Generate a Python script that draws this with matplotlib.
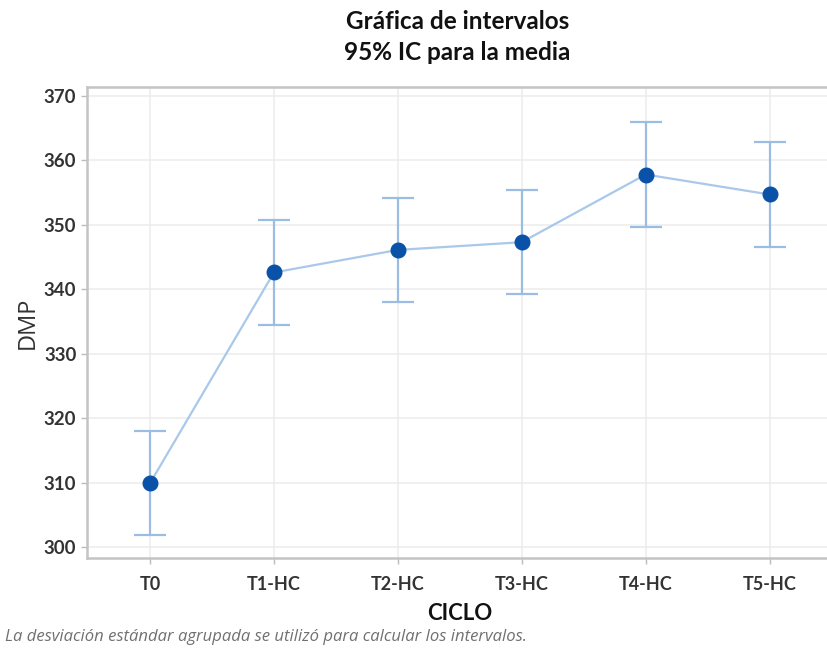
import matplotlib.pyplot as plt

# Interval plot: group means of DMP per cycle with 95% CI (pooled SD)
ciclos = ["T0", "T1-HC", "T2-HC", "T3-HC", "T4-HC", "T5-HC"]
medias = [309.9, 342.6, 346.1, 347.3, 357.8, 354.7]
semiancho_ic = [8.1, 8.1, 8.1, 8.1, 8.1, 8.1]
yticks = [300, 310, 320, 330, 340, 350, 360, 370]

BOLD = "Lato"

fig = plt.figure(figsize=(8.27, 6.58), dpi=100)
ax = fig.add_axes([0.105, 0.152, 0.902, 0.716])

x = list(range(len(ciclos)))
ax.errorbar(x, medias, yerr=semiancho_ic, fmt="none", ecolor="#9bbde2",
            elinewidth=1.6, capsize=11.5, capthick=1.6, zorder=2)
ax.plot(x, medias, color="#a9c8ea", linewidth=1.6, zorder=3)
ax.plot(x, medias, "o", color="#0a52a8", markersize=10.5, zorder=4)

ax.set_xlim(-0.51, 5.51)
ax.set_ylim(298.3, 371.4)
ax.set_xticks(x)
ax.set_xticklabels(ciclos, fontfamily=BOLD, fontweight="bold", fontsize=13,
                   color="#333333")
ax.set_yticks(yticks)
ax.set_yticklabels([str(v) for v in yticks], fontfamily=BOLD, fontweight="bold",
                   fontsize=13.5, color="#333333")
ax.tick_params(axis="both", length=4, color="#bbbbbb", width=1)
ax.tick_params(axis="x", pad=9)

ax.grid(True, color="#ececec", linewidth=1.1, zorder=0)
ax.set_axisbelow(True)
for sp in ax.spines.values():
    sp.set_color("#c4c4c4")
    sp.set_linewidth(1.8)

ax.set_ylabel("DMP", fontfamily="Open Sans", fontsize=17, color="#333333", labelpad=3)
ax.set_xlabel("CICLO", fontfamily=BOLD, fontweight="bold", fontsize=16,
              color="#111111", labelpad=7)

fig.text(0.553, 0.985, "Gráfica de intervalos", ha="center", va="top",
         fontfamily=BOLD, fontweight="bold", fontsize=17.5, color="#111111")
fig.text(0.553, 0.937, "95% IC para la media", ha="center", va="top",
         fontfamily=BOLD, fontweight="bold", fontsize=17.5, color="#111111")
fig.text(0.006, 0.02, "La desviación estándar agrupada se utilizó para calcular los intervalos.",
         ha="left", va="bottom", fontfamily="Open Sans", fontstyle="italic", fontsize=12,
         color="#707070")

fig.savefig("out.png", dpi=100)
